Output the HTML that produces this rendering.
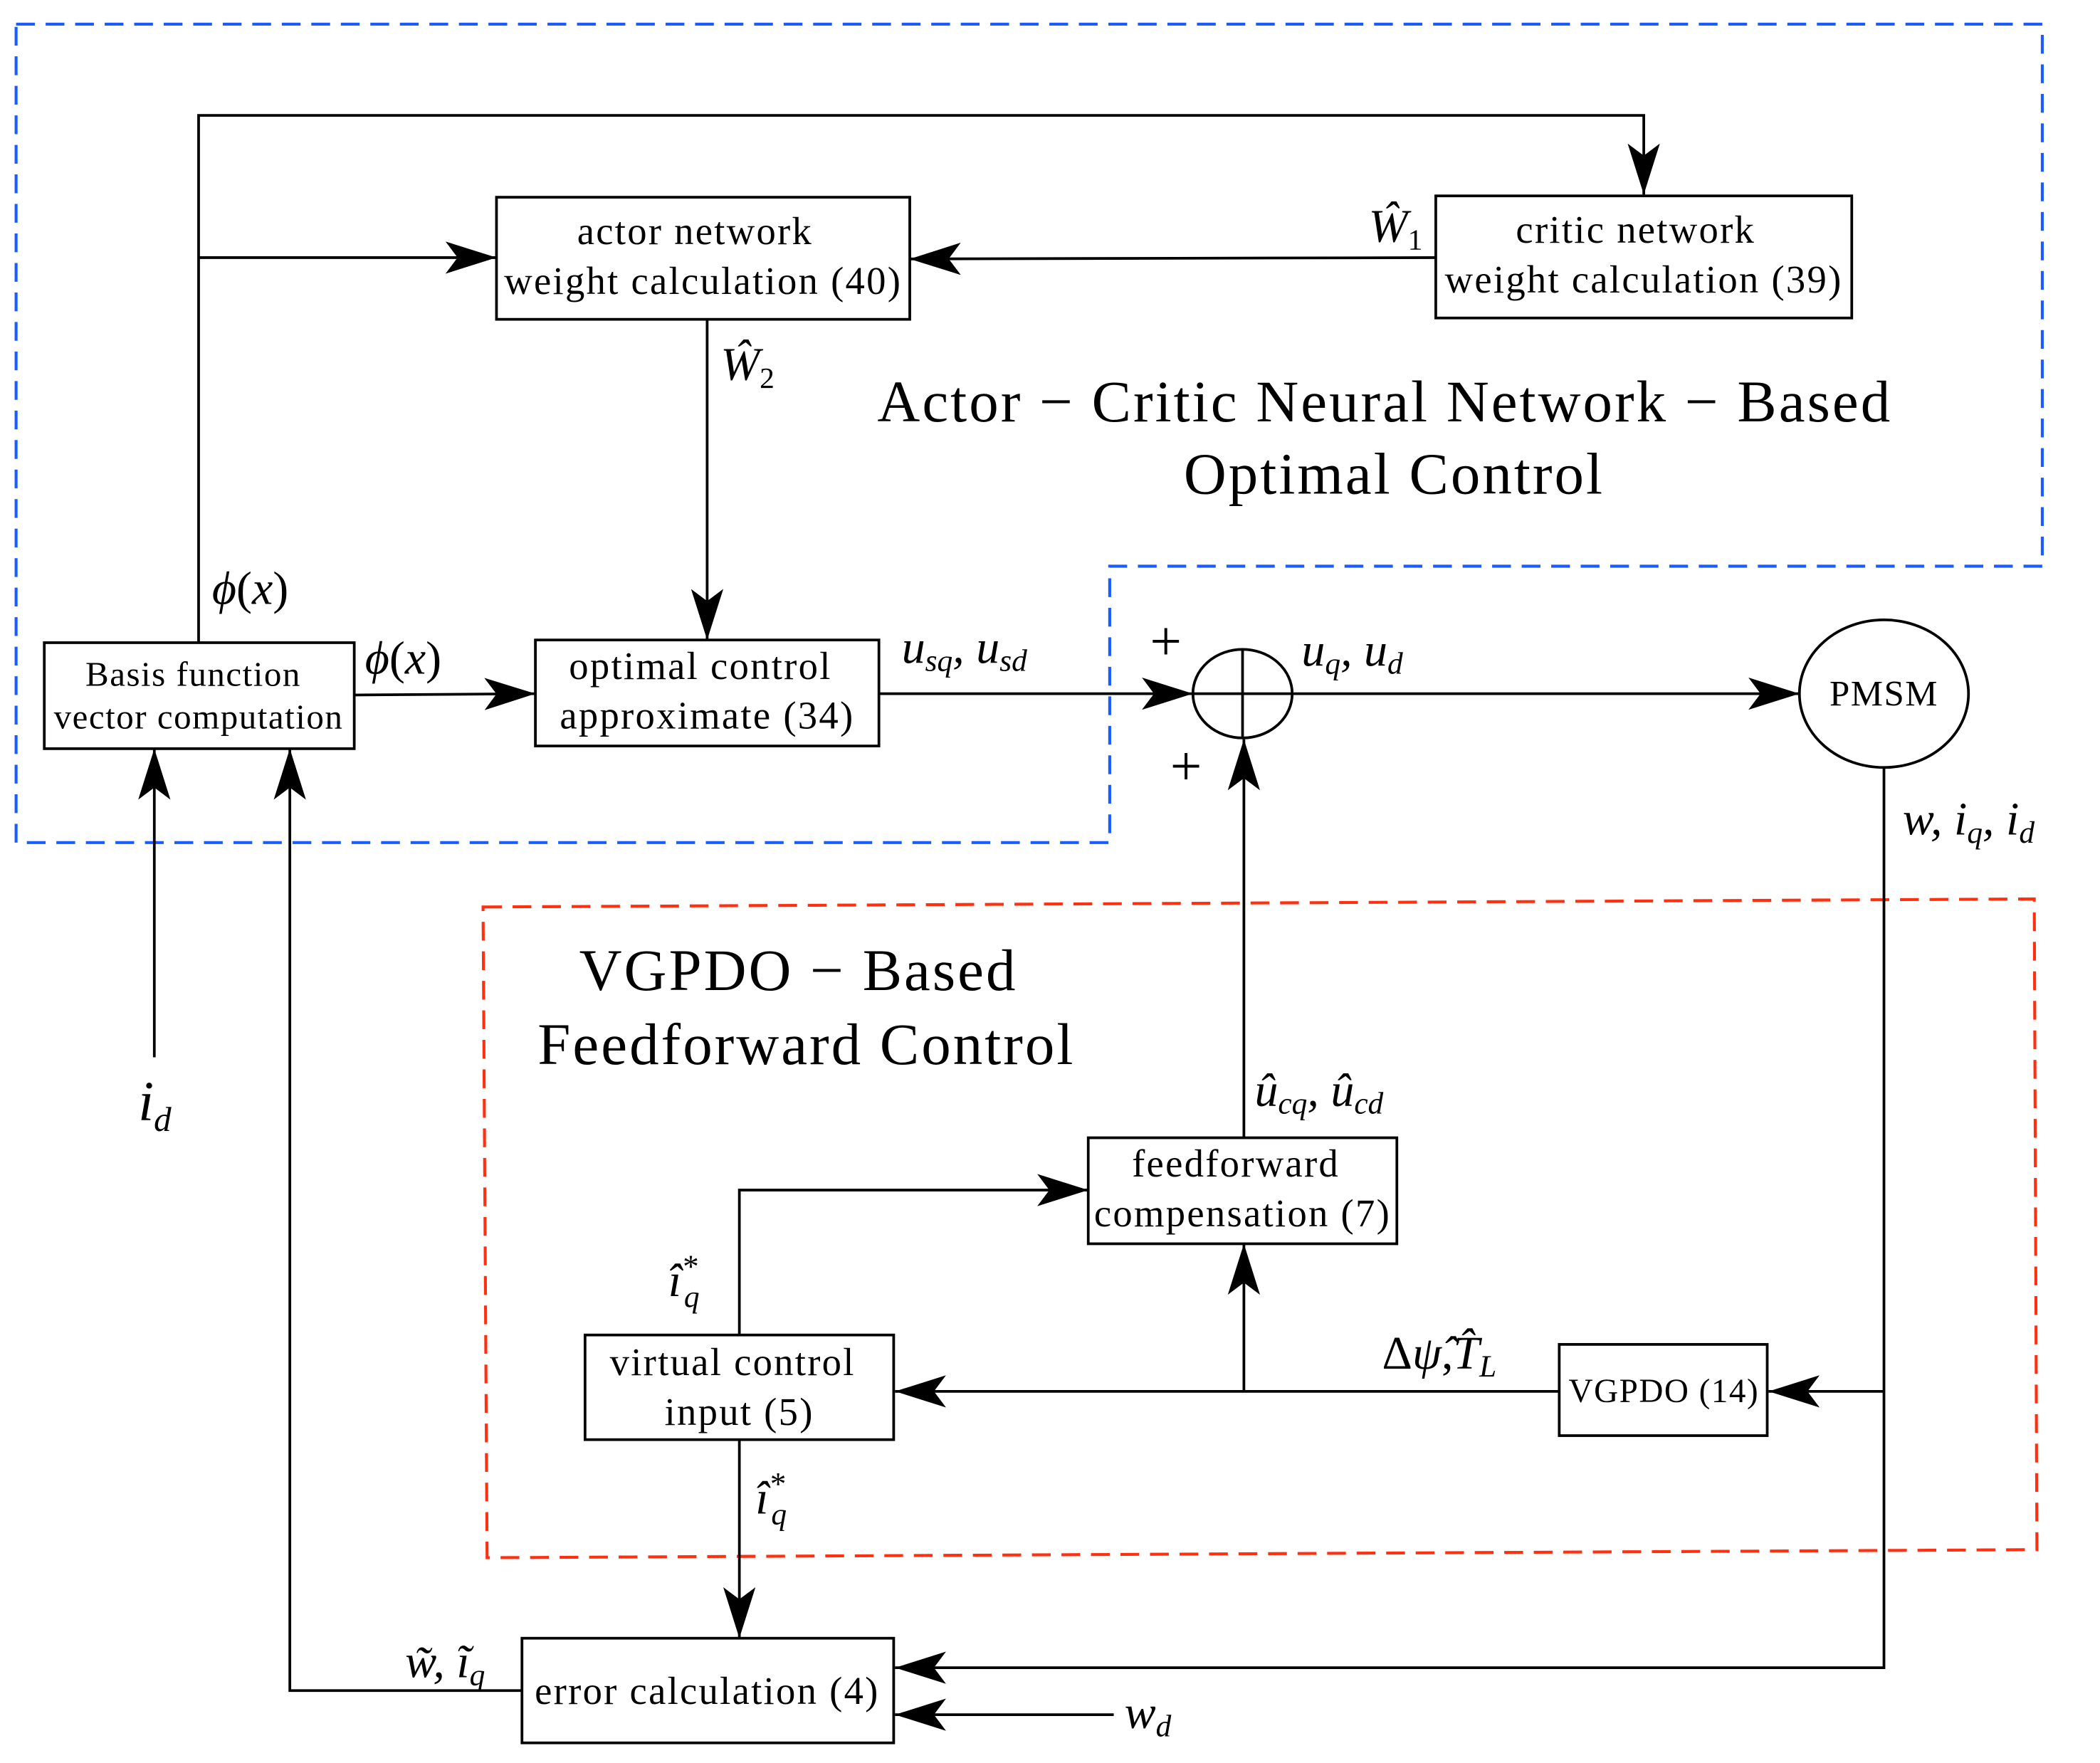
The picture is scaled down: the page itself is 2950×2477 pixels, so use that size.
<!DOCTYPE html>
<html><head><meta charset="utf-8"><style>
html,body{margin:0;padding:0;background:#fff;}
svg{display:block;}
text{font-family:"Liberation Serif","DejaVu Serif",serif;fill:#000;}
.m{font-style:italic;}
</style></head><body>
<svg width="2950" height="2477" viewBox="0 0 1565 1314" preserveAspectRatio="none" xmlns="http://www.w3.org/2000/svg">
<defs>
<marker id="a" markerWidth="40" markerHeight="24" refX="38" refY="12" orient="auto" markerUnits="userSpaceOnUse">
<path d="M0,0 L38,12 L0,24 L9,12 Z" fill="#000"/>
</marker>
</defs>
<g fill="none" stroke-width="2.2">
<path d="M12,18 H1522 V422 H827 V628 H12 Z" stroke="#1a5cff" stroke-dasharray="14,8"/>
<path d="M360,676 L1516,670 L1518,1155 L363,1161 Z" stroke="#ff3010" stroke-dasharray="14,8"/>
</g>
<g fill="none" stroke="#000" stroke-width="2">
<rect x="370" y="147" width="308" height="91"/>
<rect x="1070" y="146" width="310" height="91"/>
<rect x="33" y="479" width="231" height="79"/>
<rect x="399" y="477" width="256" height="79"/>
<ellipse cx="926" cy="517" rx="37" ry="33"/>
<line x1="889" y1="517" x2="963" y2="517"/>
<line x1="926" y1="484" x2="926" y2="550"/>
<ellipse cx="1404" cy="517" rx="63" ry="55"/>
<rect x="1162" y="1002" width="155" height="68"/>
<rect x="811" y="848" width="230" height="79"/>
<rect x="436" y="995" width="230" height="78"/>
<rect x="389" y="1221" width="277" height="78"/>
</g>
<g fill="none" stroke="#000" stroke-width="2">
<path d="M148,479 V86 H1225 V145" marker-end="url(#a)"/>
<path d="M148,192 H370" marker-end="url(#a)"/>
<path d="M1070,192 L678,193" marker-end="url(#a)"/>
<path d="M527,238 V477" marker-end="url(#a)"/>
<path d="M264,518 L399,517" marker-end="url(#a)"/>
<path d="M655,517 H889" marker-end="url(#a)"/>
<path d="M963,517 H1341" marker-end="url(#a)"/>
<path d="M1404,572 V1243 H667" marker-end="url(#a)"/>
<path d="M1404,1037 H1318" marker-end="url(#a)"/>
<path d="M1162,1037 H667" marker-end="url(#a)"/>
<path d="M927,1037 V927" marker-end="url(#a)"/>
<path d="M927,848 V551" marker-end="url(#a)"/>
<path d="M551,995 V887 H811" marker-end="url(#a)"/>
<path d="M551,1073 V1221" marker-end="url(#a)"/>
<path d="M830,1278 H667" marker-end="url(#a)"/>
<path d="M389,1260 H216 V558" marker-end="url(#a)"/>
<path d="M115,788 V558" marker-end="url(#a)"/>
</g>
<g font-size="29" letter-spacing="1.2" text-anchor="middle">
<text x="518" y="182">actor network</text>
<text x="524" y="219">weight calculation (40)</text>
<text x="1219" y="181">critic network</text>
<text x="1225" y="218">weight calculation (39)</text>
<text x="522" y="506">optimal control</text>
<text x="527" y="543">approximate (34)</text>
<text x="921" y="877">feedforward</text>
<text x="926" y="914">compensation (7)</text>
<text x="546" y="1025">virtual control</text>
<text x="551" y="1062">input (5)</text>
<text x="527" y="1270">error calculation (4)</text>
</g>
<g font-size="26" letter-spacing="0.8" text-anchor="middle">
<text x="144" y="511">Basis function</text>
<text x="148" y="543">vector computation</text>
<text x="1240" y="1045" font-size="25">VGPDO (14)</text>
<text x="1404" y="526" font-size="27">PMSM</text>
</g>
<g font-size="44" letter-spacing="1.6" text-anchor="middle">
<text x="1032" y="314">Actor − Critic Neural Network − Based</text>
<text x="1039" y="368">Optimal Control</text>
<text x="595" y="738">VGPDO − Based</text>
<text x="601" y="793">Feedforward Control</text>
</g>
<g font-size="35">
<text x="1020" y="180" class="m">Ŵ<tspan font-size="22" dy="6" font-style="normal">1</tspan></text>
<text x="537" y="283" class="m">Ŵ<tspan font-size="22" dy="6" font-style="normal">2</tspan></text>
<text x="158" y="450"><tspan class="m">ϕ</tspan>(<tspan class="m">x</tspan>)</text>
<text x="272" y="502"><tspan class="m">ϕ</tspan>(<tspan class="m">x</tspan>)</text>
<text x="672" y="494" class="m">u<tspan font-size="23" dy="6">sq</tspan><tspan dy="-6">, u</tspan><tspan font-size="23" dy="6">sd</tspan></text>
<text x="970" y="496" class="m">u<tspan font-size="23" dy="6">q</tspan><tspan dy="-6">, u</tspan><tspan font-size="23" dy="6">d</tspan></text>
<text x="857" y="492" font-size="42">+</text>
<text x="872" y="585" font-size="42">+</text>
<text x="1418" y="622" class="m">w, i<tspan font-size="23" dy="6">q</tspan><tspan dy="-6">, i</tspan><tspan font-size="23" dy="6">d</tspan></text>
<text x="935" y="824" class="m">û<tspan font-size="23" dy="6">cq</tspan><tspan dy="-6">, û</tspan><tspan font-size="23" dy="6">cd</tspan></text>
<text x="1030" y="1020">Δ<tspan class="m">ψ̂</tspan>,<tspan class="m">T̂</tspan><tspan font-size="23" dy="6" class="m">L</tspan></text>
<text x="498" y="966" class="m">î<tspan font-size="24" dy="-14">*</tspan><tspan font-size="23" dx="-10" dy="22">q</tspan></text>
<text x="563" y="1128" class="m">î<tspan font-size="24" dy="-14">*</tspan><tspan font-size="23" dx="-10" dy="22">q</tspan></text>
<text x="302" y="1250" class="m">w̃, ĩ<tspan font-size="23" dy="6">q</tspan></text>
<text x="838" y="1288" class="m">w<tspan font-size="23" dy="6">d</tspan></text>
<text x="103" y="835" font-size="42" class="m">i<tspan font-size="26" dy="8">d</tspan></text>
</g>
</svg>
</body></html>
